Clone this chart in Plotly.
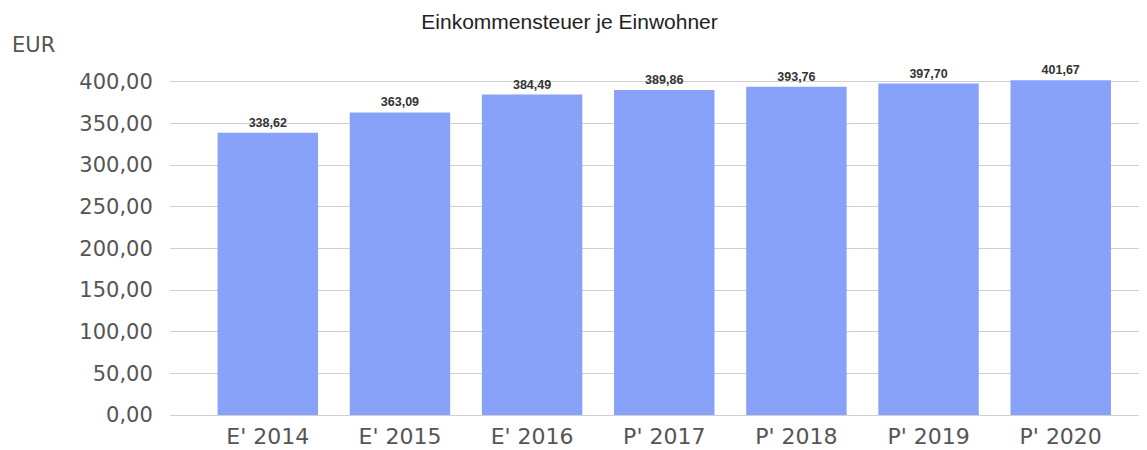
import plotly.graph_objects as go

categories = ["E' 2014", "E' 2015", "E' 2016", "P' 2017", "P' 2018", "P' 2019", "P' 2020"]
values = [338.62, 363.09, 384.49, 389.86, 393.76, 397.70, 401.67]
y_ticks = [0, 50, 100, 150, 200, 250, 300, 350, 400]

fig = go.Figure(go.Bar(
    x=list(range(len(categories))),
    y=values,
    marker=dict(color="#87a2f8", line=dict(width=0)),
    width=0.76,
    text=values,
    texttemplate="<b>%{y:.2f}</b>",
    textposition="outside",
    textfont=dict(family="Liberation Sans, Arial", size=12.5, color="#333333"),
    cliponaxis=False,
))

# page body has an 8px margin, so the figure is sized to fit the 1147x450 window
fig.update_layout(
    width=1139, height=442,
    paper_bgcolor="white", plot_bgcolor="white",
    separators=",.",
    margin=dict(l=162, r=7, t=52, b=35),
    title=dict(text="Einkommensteuer je Einwohner", x=0.493, xanchor="center", y=0.968, yanchor="middle",
               font=dict(family="Liberation Sans, Arial", size=21, color="#222222")),
    showlegend=False,
    xaxis=dict(
        range=[-0.74, 6.6], automargin=False,
        tickmode="array", tickvals=list(range(len(categories))), ticktext=categories,
        showgrid=False, zeroline=False, showline=False,
        tickfont=dict(family="DejaVu Sans", size=22, color="#555555"),
        ticks="outside", ticklen=2, tickcolor="rgba(0,0,0,0)",
    ),
    yaxis=dict(
        range=[0, 426], automargin=False,
        tickmode="array", tickvals=y_ticks,
        tickformat=".2f",
        showgrid=True, gridcolor="#d0d0d0", gridwidth=1,
        zeroline=True, zerolinecolor="#d0d0d0", zerolinewidth=1,
        showline=False,
        tickfont=dict(family="DejaVu Sans", size=21, color="#555555"),
        ticks="outside", ticklen=12, tickcolor="rgba(0,0,0,0)",
    ),
    annotations=[dict(text="EUR", xref="paper", yref="paper", x=-0.165, y=1.042,
                      xanchor="left", yanchor="middle", showarrow=False,
                      font=dict(family="DejaVu Sans", size=21, color="#555555"))],
)

fig.write_html("out.html")
